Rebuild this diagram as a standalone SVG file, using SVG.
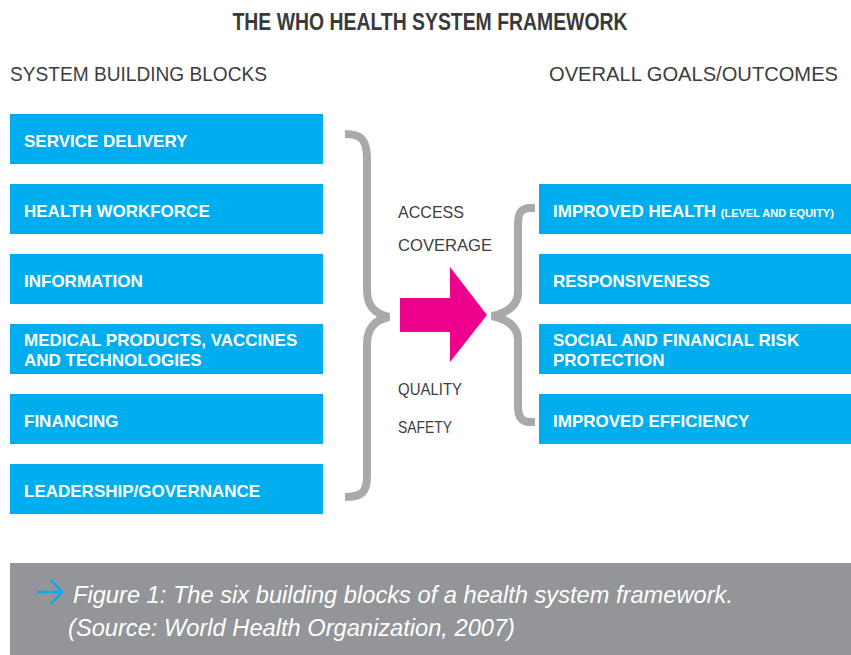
<svg xmlns="http://www.w3.org/2000/svg" width="851" height="655" viewBox="0 0 851 655">
<style>
.box{fill:#00AEEF}
.bt{font-family:"Liberation Sans",Arial,sans-serif;font-weight:bold;font-size:17px;fill:#fff}
.hd{font-family:"Liberation Sans",Arial,sans-serif;font-size:21px;fill:#3d3d3d}
.mid{font-family:"Liberation Sans",Arial,sans-serif;font-size:17px;fill:#3d3d3d}
.brace{fill:none;stroke:#A7A9AC;stroke-width:8;stroke-linecap:butt}
.cap{font-family:"Liberation Sans",Arial,sans-serif;font-style:italic;font-size:23px;fill:#fff}
</style>
<rect width="851" height="655" fill="#fff"/>
<text x="430" y="30" text-anchor="middle" textLength="395" lengthAdjust="spacingAndGlyphs" style="font-family:'Liberation Sans',Arial,sans-serif;font-weight:bold;font-size:23px;fill:#3a3a3a">THE WHO HEALTH SYSTEM FRAMEWORK</text>
<text class="hd" x="10" y="81" textLength="257" lengthAdjust="spacingAndGlyphs">SYSTEM BUILDING BLOCKS</text>
<text class="hd" x="549" y="81" textLength="289" lengthAdjust="spacingAndGlyphs">OVERALL GOALS/OUTCOMES</text>

<g id="service-delivery"><rect class="box" x="10" y="114" width="313" height="50"/><text class="bt" x="24" y="147">SERVICE DELIVERY</text></g>
<g id="health-workforce"><rect class="box" x="10" y="184" width="313" height="50"/><text class="bt" x="24" y="217">HEALTH WORKFORCE</text></g>
<g id="information"><rect class="box" x="10" y="254" width="313" height="50"/><text class="bt" x="24" y="287">INFORMATION</text></g>
<g id="medical-products"><rect class="box" x="10" y="324" width="313" height="50"/><text class="bt" x="24" y="346">MEDICAL PRODUCTS, VACCINES</text><text class="bt" x="24" y="366">AND TECHNOLOGIES</text></g>
<g id="financing"><rect class="box" x="10" y="394" width="313" height="50"/><text class="bt" x="24" y="427">FINANCING</text></g>
<g id="leadership"><rect class="box" x="10" y="464" width="313" height="50"/><text class="bt" x="24" y="497">LEADERSHIP/GOVERNANCE</text></g>

<g id="improved-health"><rect class="box" x="539" y="184" width="312" height="50"/><text class="bt" x="553" y="217">IMPROVED HEALTH <tspan style="font-size:11px">(LEVEL AND EQUITY)</tspan></text></g>
<g id="responsiveness"><rect class="box" x="539" y="254" width="312" height="50"/><text class="bt" x="553" y="287">RESPONSIVENESS</text></g>
<g id="risk-protection"><rect class="box" x="539" y="324" width="312" height="50"/><text class="bt" x="553" y="346">SOCIAL AND FINANCIAL RISK</text><text class="bt" x="553" y="366">PROTECTION</text></g>
<g id="improved-efficiency"><rect class="box" x="539" y="394" width="312" height="50"/><text class="bt" x="553" y="427">IMPROVED EFFICIENCY</text></g>

<g id="middle">
<text class="mid" x="398" y="218" textLength="66" lengthAdjust="spacingAndGlyphs">ACCESS</text>
<text class="mid" x="398" y="251" textLength="94" lengthAdjust="spacingAndGlyphs">COVERAGE</text>
<text class="mid" x="398" y="395" textLength="64" lengthAdjust="spacingAndGlyphs">QUALITY</text>
<text class="mid" x="398" y="433" textLength="54" lengthAdjust="spacingAndGlyphs">SAFETY</text>
</g>

<g id="connectors">
<path class="brace" d="M345,134 C362,134 367,140 367,160 L367,290 C367,306 375,314 389,317 C375,320 367,328 367,344 L367,476 C367,492 362,497 345,497"/>
<path class="brace" d="M535,208 L530,208 C522,208 518,212 518,224 L518,292 C518,306 506,313 492,316 C506,319 518,326 518,340 L518,406 C518,418 522,422 530,422 L535,422"/>
<polygon points="400,298 450,298 450,267 487,315 450,362 450,332 400,332" fill="#EC008C"/>
</g>

<g id="caption">
<rect x="10" y="563" width="841" height="92" fill="#939598"/>
<path d="M37,592 L62,592 M51,580 L62,592 L51,604" fill="none" stroke="#00AEEF" stroke-width="2.5"/>
<text class="cap" x="73" y="603" textLength="660" lengthAdjust="spacingAndGlyphs">Figure 1: The six building blocks of a health system framework.</text>
<text class="cap" x="68" y="636" textLength="447" lengthAdjust="spacingAndGlyphs">(Source: World Health Organization, 2007)</text>
</g>
</svg>
